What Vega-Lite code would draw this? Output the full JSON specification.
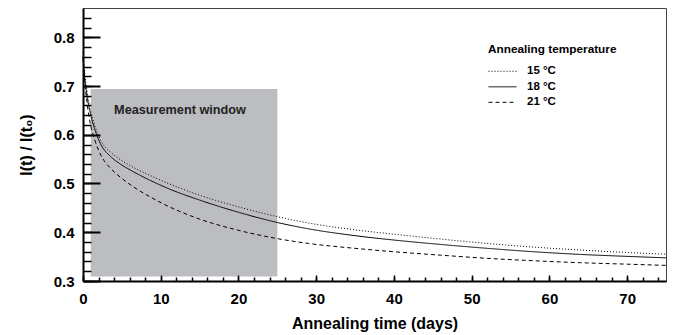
{
  "$schema": "https://vega.github.io/schema/vega-lite/v6.json",
  "width": 583,
  "height": 273,
  "autosize": "none",
  "padding": {"left": 83, "top": 8, "right": 17, "bottom": 54},
  "background": "white",
  "config": {
    "view": {"stroke": "#444", "strokeWidth": 1},
    "font": "Liberation Sans",
    "axis": {"zindex": 1, "labelFont": "Liberation Sans", "titleFont": "Liberation Sans", "labelFontWeight": "bold", "titleFontWeight": "bold", "labelColor": "black", "titleColor": "black", "grid": false, "domainColor": "black", "domainWidth": 2, "tickColor": "black", "labelFlush": false, "labelOverlap": false}
  },
  "resolve": {"axis": {"x": "independent", "y": "independent"}},
  "datasets": {
    "curves": [
      {"t": 0, "v": 0.77, "temp": "15 °C"}, {"t": 0.25, "v": 0.722, "temp": "15 °C"}, {"t": 0.5, "v": 0.692, "temp": "15 °C"}, {"t": 1, "v": 0.648, "temp": "15 °C"}, {"t": 1.5, "v": 0.62, "temp": "15 °C"}, {"t": 2.3, "v": 0.588, "temp": "15 °C"}, {"t": 3.5, "v": 0.565, "temp": "15 °C"}, {"t": 4.8, "v": 0.549, "temp": "15 °C"}, {"t": 6.5, "v": 0.533, "temp": "15 °C"}, {"t": 8.7, "v": 0.516, "temp": "15 °C"}, {"t": 11, "v": 0.5, "temp": "15 °C"}, {"t": 15, "v": 0.476, "temp": "15 °C"}, {"t": 20, "v": 0.452, "temp": "15 °C"}, {"t": 25, "v": 0.432, "temp": "15 °C"}, {"t": 29, "v": 0.419, "temp": "15 °C"}, {"t": 35, "v": 0.405, "temp": "15 °C"}, {"t": 40, "v": 0.396, "temp": "15 °C"}, {"t": 46, "v": 0.386, "temp": "15 °C"}, {"t": 52, "v": 0.377, "temp": "15 °C"}, {"t": 58, "v": 0.3695, "temp": "15 °C"}, {"t": 64, "v": 0.3635, "temp": "15 °C"}, {"t": 70, "v": 0.3585, "temp": "15 °C"}, {"t": 75, "v": 0.355, "temp": "15 °C"},
      {"t": 0, "v": 0.76, "temp": "18 °C"}, {"t": 0.25, "v": 0.712, "temp": "18 °C"}, {"t": 0.5, "v": 0.682, "temp": "18 °C"}, {"t": 1, "v": 0.64, "temp": "18 °C"}, {"t": 1.5, "v": 0.612, "temp": "18 °C"}, {"t": 2.3, "v": 0.58, "temp": "18 °C"}, {"t": 3.5, "v": 0.556, "temp": "18 °C"}, {"t": 4.8, "v": 0.54, "temp": "18 °C"}, {"t": 6.5, "v": 0.524, "temp": "18 °C"}, {"t": 8.7, "v": 0.506, "temp": "18 °C"}, {"t": 11, "v": 0.4895, "temp": "18 °C"}, {"t": 15, "v": 0.466, "temp": "18 °C"}, {"t": 20, "v": 0.441, "temp": "18 °C"}, {"t": 25, "v": 0.42, "temp": "18 °C"}, {"t": 29, "v": 0.407, "temp": "18 °C"}, {"t": 35, "v": 0.393, "temp": "18 °C"}, {"t": 40, "v": 0.384, "temp": "18 °C"}, {"t": 46, "v": 0.375, "temp": "18 °C"}, {"t": 52, "v": 0.367, "temp": "18 °C"}, {"t": 58, "v": 0.36, "temp": "18 °C"}, {"t": 64, "v": 0.3545, "temp": "18 °C"}, {"t": 70, "v": 0.3505, "temp": "18 °C"}, {"t": 75, "v": 0.3475, "temp": "18 °C"},
      {"t": 0, "v": 0.76, "temp": "21 °C"}, {"t": 0.25, "v": 0.705, "temp": "21 °C"}, {"t": 0.5, "v": 0.668, "temp": "21 °C"}, {"t": 1, "v": 0.618, "temp": "21 °C"}, {"t": 1.5, "v": 0.59, "temp": "21 °C"}, {"t": 2.3, "v": 0.558, "temp": "21 °C"}, {"t": 3.5, "v": 0.532, "temp": "21 °C"}, {"t": 4.8, "v": 0.513, "temp": "21 °C"}, {"t": 6.5, "v": 0.493, "temp": "21 °C"}, {"t": 8.7, "v": 0.472, "temp": "21 °C"}, {"t": 11, "v": 0.453, "temp": "21 °C"}, {"t": 15, "v": 0.427, "temp": "21 °C"}, {"t": 20, "v": 0.404, "temp": "21 °C"}, {"t": 25, "v": 0.387, "temp": "21 °C"}, {"t": 29, "v": 0.377, "temp": "21 °C"}, {"t": 35, "v": 0.367, "temp": "21 °C"}, {"t": 40, "v": 0.36, "temp": "21 °C"}, {"t": 46, "v": 0.353, "temp": "21 °C"}, {"t": 52, "v": 0.3465, "temp": "21 °C"}, {"t": 58, "v": 0.3415, "temp": "21 °C"}, {"t": 64, "v": 0.3375, "temp": "21 °C"}, {"t": 70, "v": 0.3345, "temp": "21 °C"}, {"t": 75, "v": 0.332, "temp": "21 °C"}
    ]
  },
  "layer": [
    {
      "data": {"values": [{"x": 1, "x2": 25, "y": 0.309, "y2": 0.694}]},
      "mark": {"type": "rect", "color": "#bcbdc0"},
      "encoding": {
        "x": {"field": "x", "type": "quantitative", "scale": {"domain": [0, 75], "nice": false, "zero": false},
          "title": "Annealing time (days)",
          "axis": {
            "orient": "bottom",
            "zindex": 2,
            "values": [0, 10, 20, 30, 40, 50, 60, 70],
            "format": "d",
            "tickSize": -6,
            "tickWidth": 1.5,
            "labelFontSize": 15,
            "labelPadding": 16,
            "titleFontSize": 16,
            "titlePadding": 9
          }
        },
        "x2": {"field": "x2"},
        "y": {"field": "y", "type": "quantitative", "scale": {"domain": [0.3, 0.86], "nice": false, "zero": false},
          "title": "I(t) / I(t₀)",
          "axis": {
            "orient": "left",
            "zindex": 2,
            "values": [0.3, 0.4, 0.5, 0.6, 0.7, 0.8],
            "format": ".1f",
            "tickSize": -17,
            "tickWidth": 2,
            "labelFontSize": 15,
            "labelPadding": 26,
            "titleFontSize": 16,
            "titlePadding": 19
          }
        },
        "y2": {"field": "y2"}
      }
    },
    {
      "data": {"values": [{"x": 4, "y": 0.65, "label": "Measurement window"}]},
      "mark": {"type": "text", "align": "left", "baseline": "middle", "fontWeight": "bold", "fontSize": 12.7, "font": "Liberation Sans", "color": "#222"},
      "encoding": {
        "x": {"field": "x", "type": "quantitative",
          "axis": {
            "orient": "bottom",
            "zindex": 2,
            "values": [0,2,4,6,8,10,12,14,16,18,20,22,24,26,28,30,32,34,36,38,40,42,44,46,48,50,52,54,56,58,60,62,64,66,68,70,72,74],
            "labels": false, "domain": false, "title": null,
            "tickSize": -4, "tickWidth": 1.5
          }
        },
        "y": {"field": "y", "type": "quantitative",
          "axis": {
            "orient": "left",
            "zindex": 2,
            "values": [0.3,0.32,0.34,0.36,0.38,0.4,0.42,0.44,0.46,0.48,0.5,0.52,0.54,0.56,0.58,0.6,0.62,0.64,0.66,0.68,0.7,0.72,0.74,0.76,0.78,0.8,0.82,0.84],
            "labels": false, "domain": false, "title": null,
            "tickSize": -8, "tickWidth": 1.5
          }
        },
        "text": {"field": "label"}
      }
    },
    {
      "data": {"name": "curves"},
      "mark": {"type": "line", "color": "black", "strokeWidth": 1, "interpolate": "monotone"},
      "encoding": {
        "x": {"field": "t", "type": "quantitative", "axis": null},
        "y": {"field": "v", "type": "quantitative", "axis": null},
        "strokeDash": {"field": "temp", "type": "nominal",
          "scale": {"domain": ["15 °C", "18 °C", "21 °C"], "range": [[1, 2], [1, 0], [4, 3]]},
          "legend": {
            "title": "Annealing temperature",
            "orient": "none",
            "legendX": 405,
            "legendY": 36,
            "padding": 0,
            "symbolType": "stroke",
            "symbolSize": 784,
            "symbolStrokeColor": "black",
            "symbolStrokeWidth": 1,
            "clipHeight": 13,
            "rowPadding": 2.5,
            "labelOffset": 10,
            "labelFont": "Liberation Sans",
            "labelFontWeight": "bold",
            "labelFontSize": 11.5,
            "labelColor": "black",
            "titleFont": "Liberation Sans",
            "titleFontWeight": "bold",
            "titleFontSize": 11.8,
            "titleColor": "black",
            "titlePadding": 9
          }
        }
      }
    }
  ]
}
